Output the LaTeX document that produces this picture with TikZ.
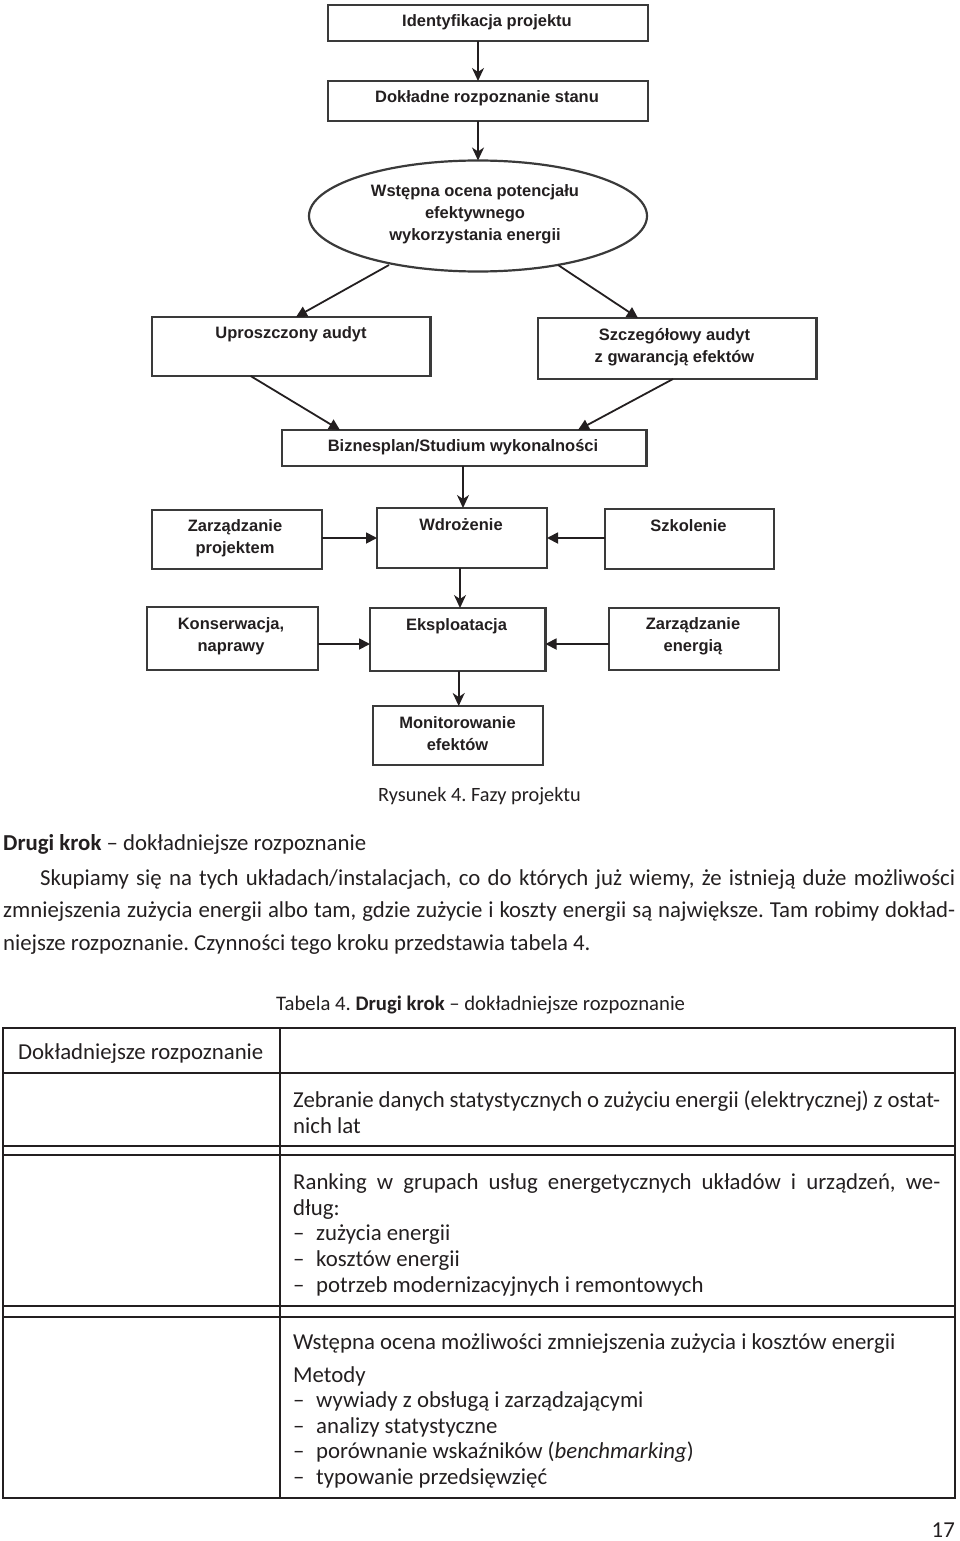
\documentclass[tikz,border=0pt]{standalone}
\usepackage{fontspec}
\setmainfont{Carlito}
\newfontfamily\flowfont{Liberation Sans}
\usetikzlibrary{arrows.meta,shapes.geometric}
\definecolor{ink}{HTML}{231F20}
\definecolor{boxline}{HTML}{3A3A3A}
\newcommand{\dashitem}[1]{\makebox[23pt][l]{–}#1}
\frenchspacing
\begin{document}
\begin{tikzpicture}[x=1pt,y=-1pt,
  fbox/.style={draw=boxline, line width=2.2pt, inner sep=0pt, outer sep=0pt, rectangle},
  fell/.style={draw=boxline, line width=2.2pt, inner sep=0pt, outer sep=0pt, ellipse},
  ftext/.style={font=\flowfont\bfseries\fontsize{16.5}{22}\selectfont, align=center, text=ink, inner sep=0pt},
  arr/.style={draw=ink, line width=1.8pt, -{Triangle[length=11pt,width=11pt]}},
  varr/.style={draw=ink, line width=1.8pt, -{Stealth[length=13pt,width=12pt,inset=4pt]}},
  body/.style={font=\fontsize{22.8}{25.6}\selectfont, text=ink, inner sep=0pt, anchor=base west},
  tline/.style={draw=ink, line width=1.4pt}
]
\useasboundingbox (0,0) rectangle (960,1541);

% ---------- flowchart boxes ----------
\node[fbox, minimum width=320pt, minimum height=36pt] (id) at (488,23) {};
\node[fbox, minimum width=320pt, minimum height=40pt] (dk) at (488,101) {};
\node[fell, minimum width=338pt, minimum height=111pt] (ell) at (478,216) {};
\node[fbox, minimum width=278.5pt, minimum height=59pt] (up) at (291.25,346.5) {};
\node[fbox, minimum width=278.5pt, minimum height=61pt] (sz) at (677.25,348.5) {};
\node[fbox, minimum width=364.5pt, minimum height=36pt] (bz) at (464.25,448) {};
\node[fbox, minimum width=170pt, minimum height=60pt] (wd) at (462,538) {};
\node[fbox, minimum width=170pt, minimum height=59pt] (zp) at (237,539.5) {};
\node[fbox, minimum width=169pt, minimum height=60pt] (sk) at (689.5,539) {};
\node[fbox, minimum width=175.5pt, minimum height=63pt] (ek) at (457.75,639.5) {};
\node[fbox, minimum width=171pt, minimum height=63pt] (kn) at (232.5,638.5) {};
\node[fbox, minimum width=170pt, minimum height=62pt] (ze) at (694,639) {};
\node[fbox, minimum width=170pt, minimum height=59pt] (mo) at (458,735.5) {};

% ---------- flowchart texts ----------
\node[ftext] (tid) at (487,22) {Identyfikacja projektu};
\node[ftext] (tdk) at (487,98) {Dokładne rozpoznanie stanu};
\node[ftext] (tell) at (475,214) {Wstępna ocena potencjału\\efektywnego\\wykorzystania energii};
\node[ftext] (tup) at (291,334) {Uproszczony audyt};
\node[ftext] (tsz) at (674.5,347) {Szczegółowy audyt\\z gwarancją efektów};
\node[ftext] (tbz) at (463,447) {Biznesplan/Studium wykonalności};
\node[ftext] (twd) at (461,525) {Wdrożenie};
\node[ftext] (tzp) at (235,538) {Zarządzanie\\projektem};
\node[ftext] (tsk) at (688.5,526) {Szkolenie};
\node[ftext] (tek) at (456.5,626) {Eksploatacja};
\node[ftext] (tkn) at (231,636) {Konserwacja,\\naprawy};
\node[ftext] (tze) at (693,636.5) {Zarządzanie\\energią};
\node[ftext] (tmo) at (457.5,733.5) {Monitorowanie\\efektów};

% ---------- connectors ----------
\draw[varr] (id.south -| 478,0) -- (dk.north -| 478,0);
\draw[varr] (dk.south -| 478,0) -- (ell.north);
\coordinate (e1) at (389,265);
\coordinate (e2) at (558,265);
\draw[arr] (e1) -- (up.north -| 296,0);
\draw[arr] (e2) -- (sz.north -| 638,0);
\draw[arr] (up.south -| 250.6,0) -- (bz.north -| 340,0);
\draw[arr] (sz.south -| 673,0) -- (bz.north -| 578,0);
\draw[varr] (bz.south -| 463,0) -- (wd.north -| 463,0);
\draw[arr] (zp.east |- 0,538) -- (wd.west |- 0,538);
\draw[arr] (sk.west |- 0,538) -- (wd.east |- 0,538);
\draw[varr] (wd.south -| 460,0) -- (ek.north -| 460,0);
\draw[arr] (kn.east |- 0,644) -- (ek.west |- 0,644);
\draw[arr] (ze.west |- 0,644) -- (ek.east |- 0,644);
\draw[varr] (ek.south -| 458.7,0) -- (mo.north -| 458.7,0);

% ---------- captions and paragraph ----------
\node[body, font=\fontsize{20.3}{24}\selectfont] (cap) at (378,801) {Rysunek 4. Fazy projektu};
\node[body] (head) at (3,850) {\textbf{Drugi krok} – dokładniejsze rozpoznanie};
\node[body] (p1) at (40,885) {\makebox[915pt][s]{Skupiamy się na tych układach/instalacjach, co do których już wiemy, że istnieją duże możliwości}};
\node[body] (p2) at (3,917) {\makebox[952pt][s]{zmniejszenia zużycia energii albo tam, gdzie zużycie i koszty energii są największe. Tam robimy dokład-}};
\node[body] (p3) at (3,950) {niejsze rozpoznanie. Czynności tego kroku przedstawia tabela 4.};
\node[body, font=\fontsize{20.7}{24}\selectfont] (tcap) at (276,1010) {Tabela 4. \textbf{Drugi krok} – dokładniejsze rozpoznanie};

% ---------- table ----------
\coordinate (tl) at (3,1028);
\coordinate (br) at (955,1498);
\draw[tline] (tl) rectangle (br);
\draw[tline] (280,1028) -- (280,1498);
\draw[tline] (3,1073) -- (955,1073);
\draw[tline] (3,1146) -- (955,1146);
\draw[tline] (3,1155) -- (955,1155);
\draw[tline] (3,1306) -- (955,1306);
\draw[tline] (3,1317) -- (955,1317);

\node[body] (r1) at (18,1059) {Dokładniejsze rozpoznanie};
\node[body] (r2a) at (293,1107) {\makebox[647pt][s]{Zebranie danych statystycznych o zużyciu energii (elektrycznej) z ostat-}};
\node[body] (r2b) at (293,1133) {nich lat};
\node[body] (r3a) at (293,1189) {\makebox[647pt][s]{Ranking w grupach usług energetycznych układów i urządzeń, we-}};
\node[body] (r3b) at (293,1215) {dług:};
\node[body] (r3c) at (293,1240) {\dashitem{zużycia energii}};
\node[body] (r3d) at (293,1266) {\dashitem{kosztów energii}};
\node[body] (r3e) at (293,1292) {\dashitem{potrzeb modernizacyjnych i remontowych}};
\node[body] (r4a) at (293,1349) {Wstępna ocena możliwości zmniejszenia zużycia i kosztów energii};
\node[body] (r4b) at (293,1382) {Metody};
\node[body] (r4c) at (293,1407) {\dashitem{wywiady z obsługą i zarządzającymi}};
\node[body] (r4d) at (293,1433) {\dashitem{analizy statystyczne}};
\node[body] (r4e) at (293,1458) {\dashitem{porównanie wskaźników (\textit{benchmarking})}};
\node[body] (r4f) at (293,1484) {\dashitem{typowanie przedsięwzięć}};
\node[body, anchor=base east] (pg) at (955,1537) {17};
\end{tikzpicture}
\end{document}
